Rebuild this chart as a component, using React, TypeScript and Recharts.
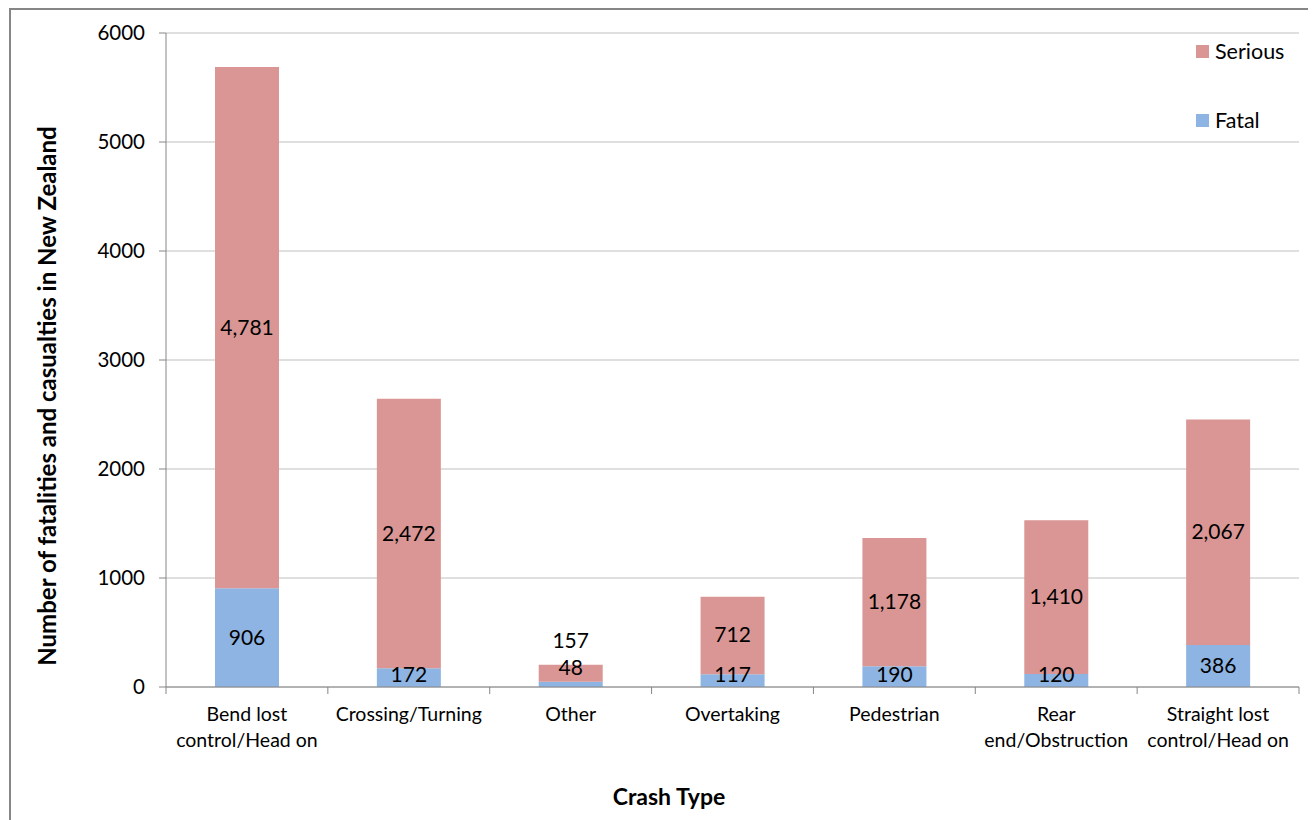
import { Bar, BarChart, CartesianGrid, LabelList, XAxis, YAxis } from "recharts";

const CATEGORIES = [
  "Bend lost\ncontrol/Head on",
  "Crossing/Turning",
  "Other",
  "Overtaking",
  "Pedestrian",
  "Rear\nend/Obstruction",
  "Straight lost\ncontrol/Head on",
];
const FATAL = [906, 172, 48, 117, 190, 120, 386];
const SERIOUS = [4781, 2472, 157, 712, 1178, 1410, 2067];
const Y_TICKS = [0, 1000, 2000, 3000, 4000, 5000, 6000];

const FATAL_COLOR = "#8DB4E2";
const SERIOUS_COLOR = "#D99694";
const AXIS_COLOR = "#868686";
const FONT = "Lato, 'Open Sans', sans-serif";

const CHART_W = 1302;
const CHART_H = 808;
const X_AXIS_H = 131;
const MARGIN = { top: 23, right: 14, bottom: 0, left: 0 };
const Y_AXIS_W = 155;
const BAND = (CHART_W - MARGIN.right - Y_AXIS_W) / CATEGORIES.length;
const AXIS_Y = CHART_H - X_AXIS_H;

const data = CATEGORIES.map((name, i) => ({ name, fatal: FATAL[i], serious: SERIOUS[i] }));

const fmt = (v: number) => v.toLocaleString("en-US");

function CategoryTick(props: any) {
  const { x, y, payload, index } = props;
  const lines = String(payload.value).split("\n");
  return (
    <g>
      <line x1={x - BAND / 2} y1={y} x2={x - BAND / 2} y2={y + 7} stroke={AXIS_COLOR} />
      {index === CATEGORIES.length - 1 && (
        <line x1={x + BAND / 2} y1={y} x2={x + BAND / 2} y2={y + 7} stroke={AXIS_COLOR} />
      )}
      <text x={x} y={y + 34} textAnchor="middle" fontSize={19.5} fill="#000" fontFamily={FONT}>
        {lines.map((l, i) => (
          <tspan key={i} x={x} dy={i === 0 ? 0 : 26}>
            {l}
          </tspan>
        ))}
      </text>
    </g>
  );
}

// small segments: Excel nudged these labels upward, keeping them off the axis
function FatalLabel(props: any) {
  const { x, y, width, height, value } = props;
  const cy = height < 10 ? y - 14 : Math.min(y + height / 2, AXIS_Y - 12);
  return (
    <text x={x + width / 2} y={cy + 7} textAnchor="middle" fontSize={21} fill="#000" fontFamily={FONT}>
      {fmt(value)}
    </text>
  );
}

function SeriousLabel(props: any) {
  const { x, y, width, height, value } = props;
  const cy = height < 30 ? y - 24 : y + height / 2;
  return (
    <text x={x + width / 2} y={cy + 7} textAnchor="middle" fontSize={21} fill="#000" fontFamily={FONT}>
      {fmt(value)}
    </text>
  );
}

function LegendBox() {
  const items = [
    { label: "Serious", color: SERIOUS_COLOR },
    { label: "Fatal", color: FATAL_COLOR },
  ];
  return (
    <div style={{ position: "absolute", left: 1185, top: 29, fontFamily: FONT, fontSize: 21.5, color: "#000" }}>
      {items.map((it, i) => (
        <div key={it.label} style={{ display: "flex", alignItems: "center", height: 24, marginTop: i === 0 ? 0 : 45 }}>
          <span style={{ display: "inline-block", width: 13, height: 13, background: it.color, marginRight: 6 }} />
          {it.label}
        </div>
      ))}
    </div>
  );
}

export default function App() {
  return (
    <div
      style={{
        position: "relative",
        width: 1306,
        height: 830,
        marginLeft: 1,
        border: `2px solid ${AXIS_COLOR}`,
        background: "#fff",
      }}
    >
      <BarChart width={CHART_W} height={CHART_H} data={data} margin={MARGIN} barSize={64}>
        <CartesianGrid vertical={false} stroke="#BFBFBF" />
        <XAxis
          dataKey="name"
          interval={0}
          tickLine={false}
          tickSize={0}
          tickMargin={0}
          axisLine={{ stroke: AXIS_COLOR }}
          tick={<CategoryTick />}
          height={X_AXIS_H}
          label={{
            content: () => (
              <text x={658} y={795} textAnchor="middle" fontSize={23} fontWeight="bold" fill="#000" fontFamily={FONT}>
                Crash Type
              </text>
            ),
          }}
        />
        <YAxis
          width={Y_AXIS_W}
          domain={[0, 6000]}
          ticks={Y_TICKS}
          tickSize={7}
          tickMargin={14}
          axisLine={{ stroke: AXIS_COLOR }}
          tickLine={{ stroke: AXIS_COLOR }}
          tick={{ fontSize: 20.5, fill: "#000", fontFamily: FONT }}
          label={{
            content: () => (
              <text
                x={45}
                y={386}
                transform="rotate(-90 45 386)"
                textAnchor="middle"
                fontSize={24}
                fontWeight="bold"
                fill="#000"
                fontFamily={FONT}
              >
                Number of fatalities and casualties in New Zealand
              </text>
            ),
          }}
        />
        <Bar dataKey="fatal" name="Fatal" stackId="a" fill={FATAL_COLOR} isAnimationActive={false}>
          <LabelList dataKey="fatal" content={<FatalLabel />} />
        </Bar>
        <Bar dataKey="serious" name="Serious" stackId="a" fill={SERIOUS_COLOR} isAnimationActive={false}>
          <LabelList dataKey="serious" content={<SeriousLabel />} />
        </Bar>
      </BarChart>
      <LegendBox />
    </div>
  );
}
